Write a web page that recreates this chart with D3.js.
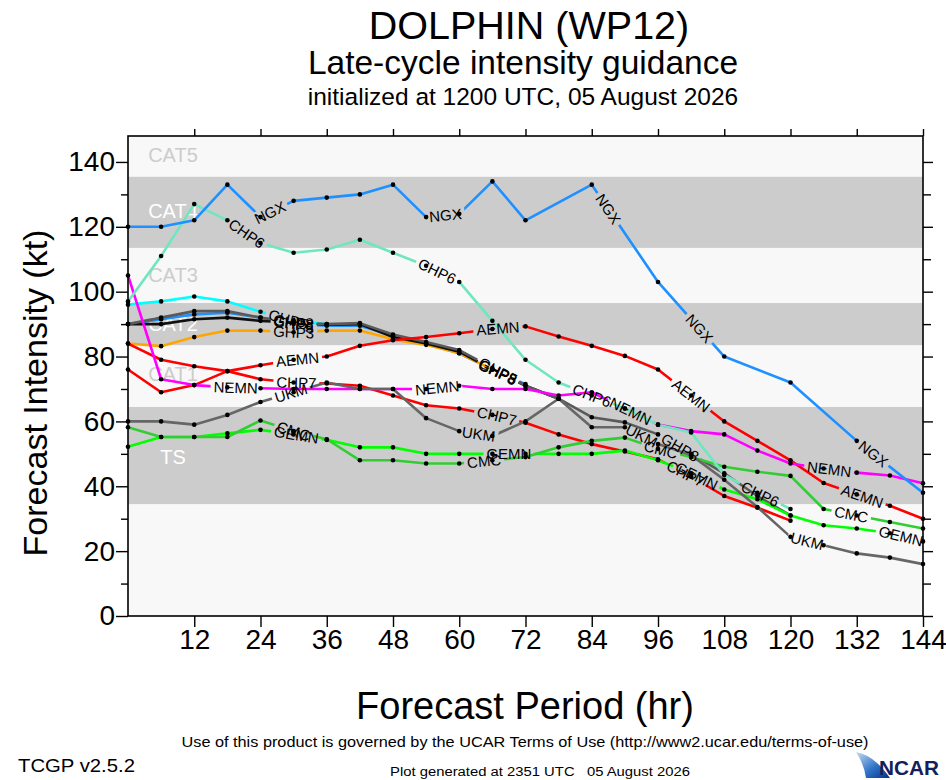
<!DOCTYPE html>
<html>
<head>
<meta charset="utf-8">
<script src="https://cdn.jsdelivr.net/npm/d3@7"></script>
<style>
  html, body { margin: 0; padding: 0; background: #fff; }
  svg { display: block; font-family: "Liberation Sans", Arial, Helvetica, sans-serif; }
</style>
</head>
<body>
<svg id="chart" width="946" height="780"></svg>
<script>
// forecast hours (x) and intensity guidance (kt), null = no value
const hours = [0, 6, 12, 18, 24, 30, 36, 42, 48, 54, 60, 66, 72, 78, 84, 90, 96, 102, 108, 114, 120, 126, 132, 138, 144];

const ngx  = [120, 120, 122, 133, 123, 128, 129, 130, 133, 123, 124, 134, 122, null, 133, null, 103, null, 80, null, 72, null, 54, null, 38];
const chp6 = [97, 111, 127, 122, 115, 112, 113, 116, 112, 108, 103, 91, 79, 72, 68, 64, 59, 56.6, 43.5, 38, 33, null, null, null, null];
const chp5 = [96, 97, 98.5, 97, 93.8, 91, 90, null, null, null, null, null, null, null, null, null, null, null, null, null, null, null, null, null, null];
const ghp3 = [84, 83.2, 86, 88, 88, 87.5, 88, 88, 85.3, 83.6, 81, 76, null, null, null, null, null, null, null, null, null, null, null, null, null];
const ghp5 = [90, 91.5, 93, 93.5, 92, 90, 89.5, 89.5, 86.5, 84, 81, 76, 71.5, null, null, null, null, null, null, null, null, null, null, null, null];
const chp8 = [90, 90, 91.5, 92, 91, 90.5, 89.8, 90, 86, 84, 81.5, 76, 71, 67, null, null, null, null, null, null, null, null, null, null, null];
const ghp8 = [90, 92, 94, 94, 92, 90.5, 90, 90.3, 86.8, 84.5, 82, 76.5, 71, 67, 61.3, 59.7, 56, 50, 44, 37, 31, null, null, null, null];
const nemn = [105, 73, 71.2, 70.5, 70.2, 70, 70, 70, 70, 70, 71, 70, 70, 68, 69, 64, 59, 57, 56, 51, 47, 45.5, 44.2, 43.3, 40.9];
const aemn = [76, 69, 71.2, 75.5, 77.3, 79, 80, 83.3, 85, 86, 87.2, 88.5, 89.3, 86.2, 83.3, 80.2, 76, 68, 60, 54, 48, 41, 37.5, 34, 30];
const chp7 = [84, 79, 77, 75.5, 73, 72, 71.7, 71, 68, 65, 64, 62, 59.6, 56, 53, 50.7, 48.3, 43, 37, 33.4, 29.4, null, null, null, null];
const cmc  = [58.2, 55.2, 55.2, 55.2, 60.3, 57, 54.5, 48, 48, 47, 47, 48, 49, 52, 54, 55, 51.5, 49, 46, 44.5, 43.2, 33, 31, 29, 27];
const gemn = [52.2, 55.2, 55.2, 56.3, 57.4, 56, 54.3, 52, 52, 50, 50, 50, 50, 50, 50, 51, 48, 44, 39, 36, 31, 28, 27, 25.5, 23];
const ukm  = [60, 60, 59, 62, 66, 69, 72, 70, 70, 61, 57, 55.5, 60, 67, 58.2, 58.2, 53, 49.6, 42, 33.6, 24.4, 21.8, 19.3, 18, 16];

// hours along each track where the model name is written
const labelHours = {
  NGX:  [25.7, 57.5, 87, 103.5, 135],
  CHP6: [21.5, 56, 84, 114.5],
  CHP5: [29],
  GHP3: [30, 67],
  GHP5: [30, 67],
  CHP8: [30, 67],
  GHP8: [30, 67, 100],
  NEMN: [19.5, 56, 91, 127],
  AEMN: [30.7, 67, 102, 133],
  CHP7: [30.5, 66.8, 101],
  CMC:  [30, 64.5, 96.5, 131],
  GEMN: [30.5, 69, 103, 140],
  UKM:  [29.5, 63.5, 93, 123]
};

// drawing order (first = bottom)
const models = [
  { name: 'GHP5', values: ghp5, color: '#1e90ff' },
  { name: 'CHP5', values: chp5, color: '#00ffff' },
  { name: 'GHP3', values: ghp3, color: '#ffa500' },
  { name: 'CHP8', values: chp8, color: '#111111' },
  { name: 'GHP8', values: ghp8, color: '#5a5a5a' },
  { name: 'CHP7', values: chp7, color: '#ff0000' },
  { name: 'AEMN', values: aemn, color: '#ff0000' },
  { name: 'NEMN', values: nemn, color: '#ff00ff' },
  { name: 'GEMN', values: gemn, color: '#00ff00' },
  { name: 'CMC',  values: cmc,  color: '#32cd32' },
  { name: 'UKM',  values: ukm,  color: '#666666' },
  { name: 'CHP6', values: chp6, color: '#70e6c0' },
  { name: 'NGX',  values: ngx,  color: '#1e90ff' }
];

// Saffir-Simpson bands (kt)
const bandEdges = [0, 34.5, 64.5, 83.5, 96.5, 113.5, 135.5, 148];
const catNames  = ['TS', 'CAT1', 'CAT2', 'CAT3', 'CAT4', 'CAT5'];
const catLabelKt = [49, 74.5, 90, 105, 125, 142];

const yMajor = [0, 20, 40, 60, 80, 100, 120, 140];
const yMinor = [10, 30, 50, 70, 90, 110, 130];
const xMajor = [12, 24, 36, 48, 60, 72, 84, 96, 108, 120, 132, 144];

const GRAY = '#cccccc', LIGHT = '#f8f8f8';

const svg = d3.select('#chart');
const defs = svg.append('defs');

const x = d3.scaleLinear().domain([0, 144]).range([128, 923]);
const y = d3.scaleLinear().domain([0, 148]).range([616, 136]);

// bands
const bands = svg.append('g');
for (let i = 0; i < bandEdges.length - 1; i++) {
  bands.append('rect')
    .attr('x', x(0)).attr('width', x(144) - x(0))
    .attr('y', y(bandEdges[i + 1])).attr('height', y(bandEdges[i]) - y(bandEdges[i + 1]))
    .attr('fill', i % 2 === 1 ? GRAY : LIGHT);
}
catNames.forEach((c, i) => {
  bands.append('text')
    .attr('x', 173).attr('y', y(catLabelKt[i]))
    .attr('dy', '0.35em')
    .attr('text-anchor', 'middle')
    .attr('font-size', 20)
    .attr('fill', i % 2 === 0 ? '#ffffff' : '#cccccc')
    .text(c);
});

const lineLayer = svg.append('g');
const markLayer = svg.append('g');
const labelLayer = svg.append('g');

const line = d3.line().x(d => x(d[0])).y(d => y(d[1]));

function placeAt(pts, h) {
  for (let k = 0; k < pts.length - 1; k++) {
    const a = pts[k], b = pts[k + 1];
    if (h >= a[0] && h <= b[0]) {
      const t = (h - a[0]) / (b[0] - a[0]);
      const x0 = x(a[0]), y0 = y(a[1]), x1 = x(b[0]), y1 = y(b[1]);
      return {
        px: x0 + t * (x1 - x0),
        py: y0 + t * (y1 - y0),
        ang: Math.atan2(y1 - y0, x1 - x0) * 180 / Math.PI
      };
    }
  }
  return null;
}

models.forEach((m, i) => {
  const pts = hours.map((h, j) => [h, m.values[j]]).filter(d => d[1] != null);

  // labels first so they can be measured for the line gaps
  const spots = (labelHours[m.name] || []).map(h => placeAt(pts, h)).filter(Boolean);
  const mask = defs.append('mask')
    .attr('id', 'gap' + i)
    .attr('maskUnits', 'userSpaceOnUse')
    .attr('x', 0).attr('y', 0).attr('width', 946).attr('height', 780);
  mask.append('rect').attr('width', 946).attr('height', 780).attr('fill', '#fff');

  spots.forEach(s => {
    const t = labelLayer.append('text')
      .attr('transform', `translate(${s.px},${s.py}) rotate(${s.ang})`)
      .attr('text-anchor', 'middle')
      .attr('dy', '0.36em')
      .attr('font-size', 15)
      .attr('fill', '#000')
      .text(m.name);
    const w = t.node().getComputedTextLength() + 6;
    mask.append('rect')
      .attr('x', -w / 2).attr('y', -7).attr('width', w).attr('height', 14)
      .attr('transform', `translate(${s.px},${s.py}) rotate(${s.ang})`)
      .attr('fill', '#000');
  });

  lineLayer.append('path')
    .attr('d', line(pts))
    .attr('fill', 'none')
    .attr('stroke', m.color)
    .attr('stroke-width', 2.6)
    .attr('stroke-linejoin', 'round')
    .attr('mask', `url(#gap${i})`);

  markLayer.selectAll(null)
    .data(pts)
    .enter().append('circle')
    .attr('cx', d => x(d[0]))
    .attr('cy', d => y(d[1]))
    .attr('r', 2.3)
    .attr('fill', '#000');
});

// axes
function styleAxis(g) {
  g.select('.domain').remove();
  g.selectAll('line').attr('stroke', '#000').attr('stroke-width', 1.4);
  g.selectAll('text').attr('font-size', 28).attr('fill', '#000')
    .attr('font-family', '"Liberation Sans", Arial, Helvetica, sans-serif');
}

svg.append('g').attr('transform', `translate(${x(0)},0)`)
  .call(d3.axisLeft(y).tickValues(yMajor).tickSize(12).tickPadding(1).tickFormat(d3.format('d')))
  .call(styleAxis);
svg.append('g').attr('transform', `translate(${x(0)},0)`)
  .call(d3.axisLeft(y).tickValues(yMinor).tickSize(7).tickFormat(''))
  .call(styleAxis);
svg.append('g').attr('transform', `translate(${x(144)},0)`)
  .call(d3.axisRight(y).tickValues(yMajor).tickSize(10).tickFormat(''))
  .call(styleAxis);
svg.append('g').attr('transform', `translate(${x(144)},0)`)
  .call(d3.axisRight(y).tickValues(yMinor).tickSize(8).tickFormat(''))
  .call(styleAxis);
svg.append('g').attr('transform', `translate(0,${y(0)})`)
  .call(d3.axisBottom(x).tickValues(xMajor).tickSize(11).tickPadding(2))
  .call(styleAxis);
svg.append('g').attr('transform', `translate(0,${y(148)})`)
  .call(d3.axisTop(x).tickValues(xMajor).tickSize(7).tickFormat(''))
  .call(styleAxis);

svg.append('rect')
  .attr('x', x(0)).attr('y', y(148))
  .attr('width', x(144) - x(0)).attr('height', y(0) - y(148))
  .attr('fill', 'none').attr('stroke', '#000').attr('stroke-width', 1.6);

// titles
svg.append('text').attr('x', 529).attr('y', 39).attr('text-anchor', 'middle')
  .attr('font-size', 39.5).text('DOLPHIN (WP12)');
svg.append('text').attr('x', 523).attr('y', 74).attr('text-anchor', 'middle')
  .attr('font-size', 33.5).text('Late-cycle intensity guidance');
svg.append('text').attr('x', 523).attr('y', 105).attr('text-anchor', 'middle')
  .attr('font-size', 24.5).text('initialized at 1200 UTC, 05 August 2026');

svg.append('text')
  .attr('transform', 'translate(47,393) rotate(-90)')
  .attr('text-anchor', 'middle')
  .attr('font-size', 34)
  .text('Forecast Intensity (kt)');
svg.append('text').attr('x', 525).attr('y', 719).attr('text-anchor', 'middle')
  .attr('font-size', 38).text('Forecast Period (hr)');

// footer
svg.append('text').attr('x', 525).attr('y', 747).attr('text-anchor', 'middle')
  .attr('font-size', 14.5).attr('textLength', 687).attr('lengthAdjust', 'spacingAndGlyphs')
  .text('Use of this product is governed by the UCAR Terms of Use (http://www2.ucar.edu/terms-of-use)');
svg.append('text').attr('x', 18).attr('y', 772)
  .attr('font-size', 18).attr('textLength', 117).attr('lengthAdjust', 'spacingAndGlyphs')
  .text('TCGP v2.5.2');
svg.append('text').attr('x', 540).attr('y', 776).attr('text-anchor', 'middle')
  .attr('font-size', 12.5).attr('textLength', 300).attr('lengthAdjust', 'spacingAndGlyphs')
  .style('white-space', 'pre')
  .text('Plot generated at 2351 UTC   05 August 2026');

// NCAR logo
const grad = defs.append('linearGradient').attr('id', 'ncarGrad')
  .attr('x1', '0').attr('y1', '0').attr('x2', '1').attr('y2', '1');
grad.append('stop').attr('offset', '0%').attr('stop-color', '#c8dcf2');
grad.append('stop').attr('offset', '55%').attr('stop-color', '#2f74c8');
grad.append('stop').attr('offset', '100%').attr('stop-color', '#0a2f8a');
svg.append('path')
  .attr('d', 'M856,752 Q874,755 890,778 L866,778 Q864,764 856,752 Z')
  .attr('fill', 'url(#ncarGrad)');
svg.append('text').attr('x', 879).attr('y', 775)
  .attr('font-size', 20).attr('font-weight', 'bold').attr('fill', '#14205a')
  .attr('textLength', 60).attr('lengthAdjust', 'spacingAndGlyphs')
  .text('NCAR');
</script>
</body>
</html>
